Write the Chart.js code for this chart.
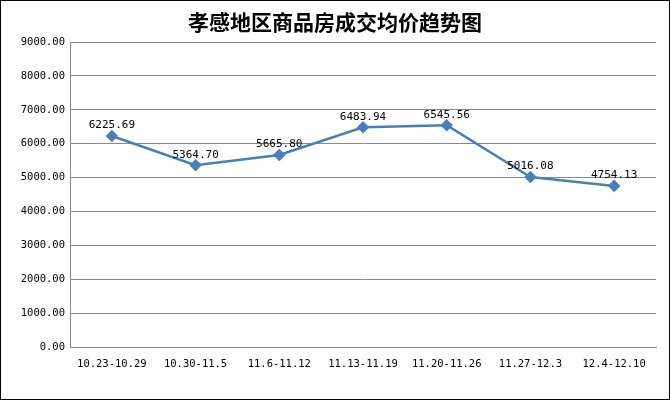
<!DOCTYPE html>
<html><head><meta charset="utf-8">
<script src="https://cdn.jsdelivr.net/npm/chart.js@4"></script>
<style>body{margin:0;background:#fff}#w{width:670px;height:400px}</style>
</head><body><div id="w"><canvas id="c"></canvas></div>
<script>
const title = '孝感地区商品房成交均价趋势图';
const categories = ['10.23-10.29','10.30-11.5','11.6-11.12','11.13-11.19','11.20-11.26','11.27-12.3','12.4-12.10'];
const prices = [6225.69,5364.70,5665.80,6483.94,6545.56,5016.08,4754.13];
const yMax = 9000, yStep = 1000;

const deco = {
  id:'deco',
  afterDraw(ch){
    const c=ch.ctx; c.save();
    c.strokeStyle='#000'; c.lineWidth=1; c.strokeRect(0.5,0.5,669,399);
    c.fillStyle='#000'; c.font='bold 21px "Noto Sans CJK SC"'; c.textAlign='center'; c.textBaseline='middle';
    c.fillText(title,335,22);
    const m=ch.getDatasetMeta(0);
    c.font='11px "DejaVu Sans Mono"'; c.textBaseline='bottom';
    m.data.forEach((p,i)=>c.fillText(prices[i].toFixed(2),p.x,p.y-5));
    c.restore();
  }
};
new Chart(document.getElementById('c'),{
  type:'line',
  data:{labels:categories,datasets:[{data:prices,borderColor:'#4a7ebb',backgroundColor:'#4a7ebb',borderWidth:2.5,
    pointStyle:'rectRot',pointRadius:4.5,pointBackgroundColor:'#4a7ebb',tension:0}]},
  options:{responsive:true,maintainAspectRatio:false,animation:false,
    layout:{padding:{top:42,right:14,bottom:28,left:0}},
    plugins:{legend:{display:false},tooltip:{enabled:false}},
    scales:{
      x:{offset:true,grid:{display:false},border:{color:'#888'},afterFit:s=>{s.height=25},
        ticks:{color:'#000',font:{size:10.5,family:'DejaVu Sans Mono'},maxRotation:0,autoSkip:false}},
      y:{min:0,max:yMax,afterFit:s=>{s.width=70},border:{color:'#888'},
        grid:{color:'#888',drawTicks:false},
        ticks:{stepSize:yStep,padding:5,color:'#000',font:{size:10.5,family:'DejaVu Sans Mono'},callback:v=>v.toFixed(2)}}
    }}
  ,plugins:[deco]});
</script></body></html>
